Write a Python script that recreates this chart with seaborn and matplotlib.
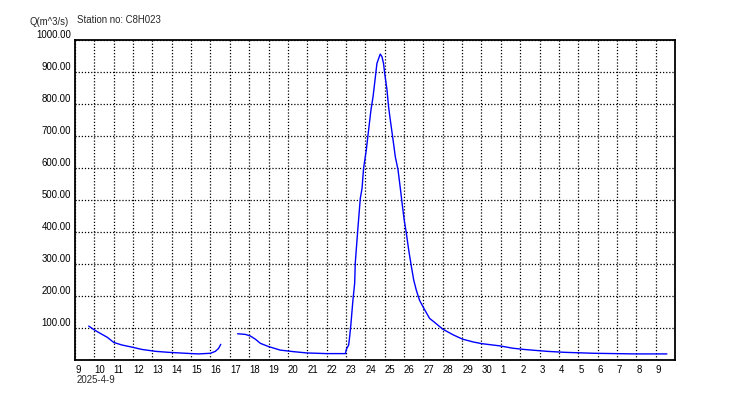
import pandas as pd
import matplotlib
matplotlib.use("Agg")
import matplotlib.pyplot as plt
import matplotlib.transforms as mtransforms
import seaborn as sns

# --- data (station C8H023) ---
seg1_time = ["2025-04-09 17:00", "2025-04-10 00:00", "2025-04-10 07:30", "2025-04-10 16:00",
             "2025-04-11 00:00", "2025-04-11 10:00", "2025-04-11 23:00", "2025-04-12 11:00",
             "2025-04-13 04:00", "2025-04-13 20:00", "2025-04-14 17:00", "2025-04-15 09:00",
             "2025-04-16 00:00", "2025-04-16 06:00", "2025-04-16 10:00", "2025-04-16 12:45"]
seg1_q = [106, 94, 83, 71, 55, 47, 40, 33, 27, 24, 21, 19, 21, 27, 36, 49]

seg2_time = ["2025-04-17 09:36", "2025-04-17 19:12", "2025-04-18 01:26", "2025-04-18 07:41",
             "2025-04-18 13:55", "2025-04-19 00:00", "2025-04-19 14:24", "2025-04-20 07:12",
             "2025-04-20 23:45", "2025-04-22 00:00", "2025-04-22 23:17", "2025-04-23 00:29",
             "2025-04-23 03:22", "2025-04-23 04:34", "2025-04-23 06:14", "2025-04-23 08:38",
             "2025-04-23 10:48", "2025-04-23 11:31", "2025-04-23 13:41", "2025-04-23 15:36",
             "2025-04-23 17:46", "2025-04-23 19:55", "2025-04-23 21:50", "2025-04-24 01:12",
             "2025-04-24 04:05", "2025-04-24 06:58", "2025-04-24 09:36", "2025-04-24 12:29",
             "2025-04-24 14:24", "2025-04-24 18:29", "2025-04-24 20:38", "2025-04-24 22:34",
             "2025-04-25 00:00", "2025-04-25 02:53", "2025-04-25 04:48", "2025-04-25 06:58",
             "2025-04-25 09:50", "2025-04-25 13:12", "2025-04-25 16:34", "2025-04-25 19:26",
             "2025-04-25 21:36", "2025-04-26 00:14", "2025-04-26 02:53", "2025-04-26 05:46",
             "2025-04-26 09:07", "2025-04-26 12:00", "2025-04-26 15:07", "2025-04-26 19:12",
             "2025-04-27 00:00", "2025-04-27 07:41", "2025-04-27 12:43", "2025-04-28 00:14",
             "2025-04-28 13:26", "2025-04-29 00:43", "2025-04-29 14:24", "2025-04-30 00:43",
             "2025-04-30 23:17", "2025-05-01 14:24", "2025-05-02 04:48", "2025-05-02 19:12",
             "2025-05-03 09:36", "2025-05-04 07:12", "2025-05-05 19:12", "2025-05-07 22:48",
             "2025-05-09 13:55"]
seg2_q = [82, 80, 75, 65, 52, 42, 31, 26, 22, 20, 20, 33,
          47, 73, 115, 187, 240, 302, 375, 437, 505, 536, 599, 656,
          719, 781, 823, 885, 927, 956, 948, 927, 896, 844, 792, 750,
          698, 635, 594, 536, 490, 437, 396, 344, 292, 250, 219, 187,
          164, 130, 120, 96, 78, 65, 56, 51, 44, 37, 33, 30,
          27, 24, 21, 19, 19]

y_ticks = [100, 200, 300, 400, 500, 600, 700, 800, 900, 1000]
day_ticks = pd.date_range("2025-04-09", "2025-05-09", freq="D")

df = pd.concat([
    pd.DataFrame({"time": pd.to_datetime(seg1_time), "q": seg1_q, "seg": 1}),
    pd.DataFrame({"time": pd.to_datetime(seg2_time), "q": seg2_q, "seg": 2}),
])

# --- style ---
sns.set_theme(style="white")
plt.rcParams["font.family"] = ["Liberation Sans", "DejaVu Sans"]
plt.rcParams["font.size"] = 6.9
plt.rcParams["xtick.labelsize"] = 6.9
plt.rcParams["ytick.labelsize"] = 6.9

fig = plt.figure(figsize=(7.5, 4), dpi=100)
ax = fig.add_axes([0.1, 0.1, 0.8, 0.8])

sns.lineplot(data=df, x="time", y="q", units="seg", estimator=None,
             color="#0000FF", linewidth=1.0, ax=ax)

ax.set_xlim(pd.Timestamp("2025-04-09"), pd.Timestamp("2025-05-10"))
ax.set_ylim(0, 1000)

# x ticks: one per day, label is the day of month
ax.set_xticks(day_ticks)
ax.set_xticklabels([str(d.day) for d in day_ticks], ha="left", fontsize=6.9)
shift_x = mtransforms.ScaledTranslation(2.5 / 100, 0, fig.dpi_scale_trans)
for lbl in ax.get_xticklabels():
    lbl.set_transform(lbl.get_transform() + shift_x)

# y ticks: labels sit just above the grid lines
ax.set_yticks(y_ticks)
ax.set_yticklabels([f"{v:.2f}" for v in y_ticks], va="bottom", fontsize=6.9)
shift_y = mtransforms.ScaledTranslation(0, 2 / 100, fig.dpi_scale_trans)
for lbl in ax.get_yticklabels():
    lbl.set_transform(lbl.get_transform() + shift_y)

ax.tick_params(axis="x", direction="out", length=3, width=1, pad=0.8, colors="black")
ax.tick_params(axis="y", length=0, pad=3, colors="black")

ax.grid(True, color="black", linestyle=(0, (1, 1.5)), linewidth=0.9)
for side in ["left", "bottom", "top", "right"]:
    ax.spines[side].set_visible(True)
    ax.spines[side].set_color("black")
    ax.spines[side].set_linewidth(1.3)

ax.set_xlabel("")
ax.set_ylabel("")

# header and date annotations
fig.text(69 / 750, 1 - 22 / 400, "Q(m^3/s)", ha="right", va="center", fontsize=6.9)
fig.text(77 / 750, 1 - 20 / 400, "Station no: C8H023", ha="left", va="center", fontsize=6.9)
fig.text(77 / 750, 1 - 380 / 400, "2025-4-9", ha="left", va="center", fontsize=6.9)

plt.savefig("out.png", dpi=100)
